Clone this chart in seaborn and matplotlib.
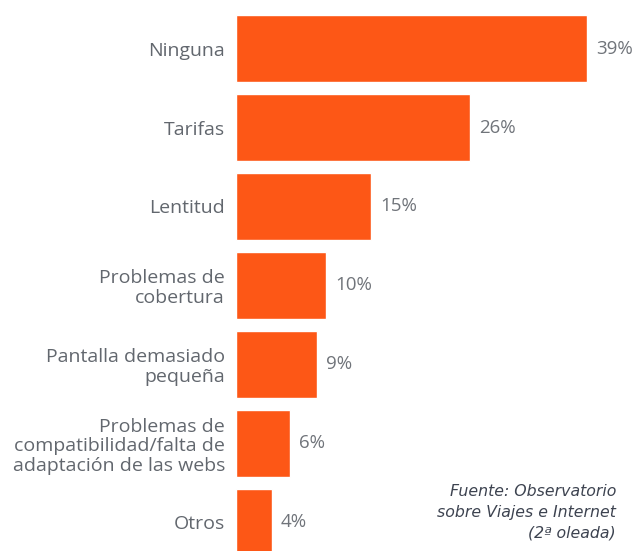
import matplotlib
matplotlib.use("Agg")
import matplotlib.pyplot as plt
import seaborn as sns
import pandas as pd

categorias = [
    "Ninguna",
    "Tarifas",
    "Lentitud",
    "Problemas de\ncobertura",
    "Pantalla demasiado\npequeña",
    "Problemas de\ncompatibilidad/falta de\nadaptación de las webs",
    "Otros",
]
porcentajes = [39, 26, 15, 10, 9, 6, 4]
etiquetas = ["39%", "26%", "15%", "10%", "9%", "6%", "4%"]
fuente = ["Fuente: Observatorio", "sobre Viajes e Internet", "(2ª oleada)"]

df = pd.DataFrame({"categoria": categorias, "porcentaje": porcentajes})

sns.set_style("white")
plt.rcParams["font.family"] = ["Open Sans", "DejaVu Sans"]

W, H = 638, 551
fig = plt.figure(figsize=(W / 100, H / 100), dpi=100)
x0 = 236
ax = fig.add_axes([x0 / W, 0, (W - x0) / W, 1])

sns.barplot(data=df, y="categoria", x="porcentaje", orient="h",
            color="#FD5716", saturation=1, width=0.85, ax=ax)

ax.set_xlim(0, (W - x0) / 9.0)
ax.set_ylim(6.361, -0.614)
sns.despine(ax=ax, left=True, bottom=True)
ax.set_xlabel("")
ax.set_ylabel("")
ax.set_xticks([])
ax.tick_params(axis="y", length=0, pad=8, labelsize=14, labelcolor="#62676e")
for lbl in ax.get_yticklabels():
    lbl.set_linespacing(1.12)

for i, (v, t) in enumerate(zip(porcentajes, etiquetas)):
    ax.annotate(t, xy=(v, i), xytext=(9, 0), textcoords="offset pixels",
                ha="left", va="center", fontsize=13.5, color="#70747a")

for y, line in zip([491, 512, 533], fuente):
    fig.text(616 / W, 1 - y / H, line, ha="right", va="center",
             fontsize=11.3, style="italic", color="#3d4350",
             family=["DejaVu Sans"])

fig.savefig("out.png", dpi=100, facecolor="white")
